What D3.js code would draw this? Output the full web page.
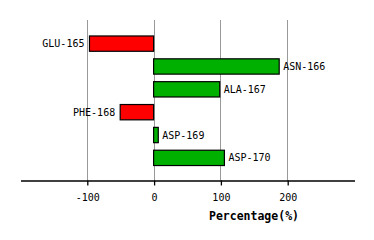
<!DOCTYPE html>
<html>
<head>
<meta charset="utf-8">
<script src="https://cdn.jsdelivr.net/npm/d3@7"></script>
<style>
	body { margin: 0; background: #fff; }
	svg { display: block; }
</style>
</head>
<body>
<div id="chart"></div>
<script>
// residues and their percentage values
const residues = ["GLU-165", "ASN-166", "ALA-167", "PHE-168", "ASP-169", "ASP-170"];
const values = [-96, 188, 99, -50, 7, 106];
const tick_values = [-100, 0, 100, 200];
const x_title = "Percentage(%)";

const w = 374, h = 240;
const font = "'DejaVu Sans Mono', monospace";

const svg = d3.select("#chart").append("svg")
	.attr("width", w)
	.attr("height", h);

const x_scale = d3.scaleLinear()
	.domain([-200, 300])
	.range([20, 354]);

const y_scale = d3.scaleBand()
	.domain(residues)
	.range([32.2, 169.3])
	.paddingInner(0.33)
	.paddingOuter(0.165);

const axis_y = 180.5;

// grid lines
svg.append("g").selectAll("line")
	.data(tick_values)
	.enter()
	.append("line")
	.attr("x1", (d) => Math.round(x_scale(d)) + 0.5)
	.attr("x2", (d) => Math.round(x_scale(d)) + 0.5)
	.attr("y1", 20)
	.attr("y2", axis_y)
	.attr("stroke", "#999")
	.attr("stroke-width", 1);

// x axis
const x_axis = svg.append("g")
	.attr("transform", `translate(0.5,${axis_y})`)
	.call(d3.axisBottom(x_scale)
		.tickValues(tick_values)
		.tickSize(5)
		.tickSizeOuter(0)
		.tickPadding(8)
		.tickFormat((d) => String(d)));
x_axis.select(".domain").attr("stroke", "#000").attr("stroke-width", 1.3);
x_axis.selectAll(".tick line").attr("stroke", "#000").attr("stroke-width", 1.3);
x_axis.selectAll("text")
	.attr("fill", "#000")
	.style("font-family", font)
	.style("font-size", "10px");

svg.append("text")
	.attr("x", 254)
	.attr("y", 219.5)
	.attr("text-anchor", "middle")
	.style("font-family", font)
	.style("font-size", "11.5px")
	.style("font-weight", "bold")
	.text(x_title);

const rows = residues.map((r, i) => ({ name: r, value: values[i] }));

// bars
svg.append("g").selectAll("rect")
	.data(rows)
	.enter()
	.append("rect")
	.attr("x", (d) => x_scale(Math.min(0, d.value)))
	.attr("y", (d) => y_scale(d.name))
	.attr("width", (d) => Math.abs(x_scale(d.value) - x_scale(0)))
	.attr("height", y_scale.bandwidth())
	.attr("fill", (d) => d.value < 0 ? "#ff0000" : "#00b000")
	.attr("stroke", "#000")
	.attr("stroke-width", 1.2);

// labels
svg.append("g").selectAll("text")
	.data(rows)
	.enter()
	.append("text")
	.attr("x", (d) => d.value < 0 ? x_scale(d.value) - 5 : x_scale(d.value) + 4)
	.attr("y", (d) => y_scale(d.name) + y_scale.bandwidth() / 2)
	.attr("dy", "0.35em")
	.attr("text-anchor", (d) => d.value < 0 ? "end" : "start")
	.style("font-family", font)
	.style("font-size", "10px")
	.text((d) => d.name);
</script>
</body>
</html>
